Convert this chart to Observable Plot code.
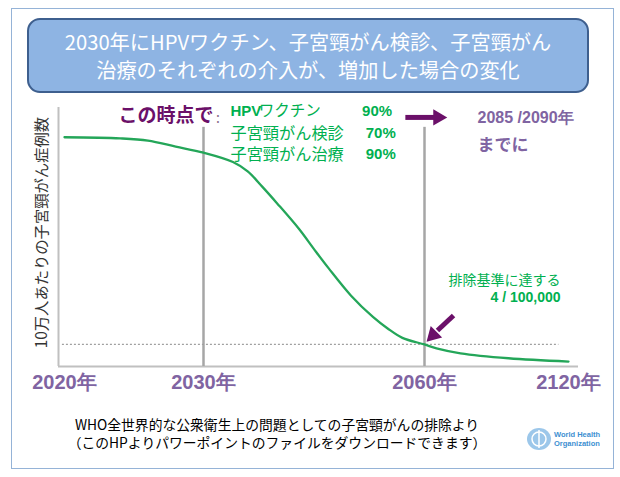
<!DOCTYPE html>
<html><head><meta charset="utf-8">
<script src="https://cdn.jsdelivr.net/npm/d3@7"></script>
<script src="https://cdn.jsdelivr.net/npm/@observablehq/plot@0.6"></script>
<style>
body{margin:0;background:#fff;width:620px;height:477px;position:relative;overflow:hidden;font-family:"Noto Sans CJK JP","Noto Sans",sans-serif}
#frame{position:absolute;left:11px;top:8px;width:603px;height:461px;border:1.5px solid #95b3d7;box-sizing:border-box}
#title{position:absolute;left:27px;top:18px;width:562px;height:75px;box-sizing:border-box;background:#8eb4e3;border:2px solid #3e5f8e;border-radius:13px;color:#fff;font-size:20.2px;line-height:28px;text-align:center;padding-top:8px;white-space:nowrap}
#chart{position:absolute;left:0;top:95px}
#foot{position:absolute;left:60px;width:434px;top:415px;text-align:center;font-size:13.8px;line-height:18px;color:#000;white-space:nowrap}
#who{position:absolute;left:526px;top:427px;display:flex;align-items:center;gap:2px}
#who .t{font-family:"Liberation Sans",sans-serif;font-weight:bold;font-size:7.5px;line-height:9px;color:#3d8fd1}
</style></head>
<body>
<div id="frame"></div>
<div id="title">2030年にHPVワクチン、子宮頸がん検診、子宮頸がん<br>治療のそれぞれの介入が、増加した場合の変化</div>
<div id="chart"></div>
<div id="foot">WHO全世界的な公衆衛生上の問題としての子宮頸がんの排除より<br>（このHPよりパワーポイントのファイルをダウンロードできます）</div>
<div id="who"><svg width="26" height="24"><ellipse cx="13" cy="12" rx="12" ry="11" fill="#9cc7ea"/><ellipse cx="13" cy="12" rx="7" ry="7" fill="none" stroke="#fff" stroke-width="1.5"/><line x1="13" y1="3" x2="13" y2="21" stroke="#fff" stroke-width="1.5"/></svg><div class="t">World Health<br>Organization</div></div>
<script>
// data
const years = [2020,2024,2026,2028,2030,2034,2036,2038,2040,2043,2045,2047,2050,2053,2055,2057,2060,2065,2075,2095,2120];
const incidence = [41.6,41.4,41.0,39.9,38.8,37.1,35.4,32.6,29.6,24.9,21.3,17.8,12.9,9.0,6.9,5.2,4.0,3.3,2.4,1.5,0.9];
const xTicks = [2020,2030,2060,2120];
const tickLabels = ["2020年","2030年","2060年","2120年"];
const markerYears = [2030,2060];
const threshold = 4;
const interventions = ["子宮頸がん検診","子宮頸がん治療"];
const coverage = ["90%","70%","90%"];
const yLabel = "10万人あたりの子宮頸がん症例数";

// piecewise (non-uniform) time axis, as in the original schematic
const X = d3.scaleLinear().domain(xTicks).range([64,203,424,568]);

const series = years.map((y,i)=>({year:y, value:incidence[i]}));
const ticks = xTicks.map((y,i)=>({year:y, label:tickLabels[i]}));

const purple = "#6b1069", lilac = "#8064a2", green = "#00b050";
const jp = "Noto Sans CJK JP", lat = "Liberation Sans";
const px = y => X(y);

const chart = Plot.plot({
  width:620, height:305, marginTop:12, marginBottom:34, marginLeft:58, marginRight:42,
  x:{type:"identity", axis:null},
  y:{domain:[0,47], axis:null},
  style:{fontFamily:jp, background:"transparent", overflow:"visible"},
  marks:[
    Plot.ruleX([2020], {x:px, dx:-6, y1:0, y2:47, stroke:"#c0c0c0", strokeWidth:2}),
    Plot.ruleY([0], {stroke:"#c0c0c0", strokeWidth:2}),
    Plot.ruleX(markerYears, {x:px, y1:0, y2:43.4, stroke:"#a6a6a6", strokeWidth:2.5}),
    Plot.ruleY([threshold], {x1:px(2019.85), x2:px(2116), stroke:"#a0a0a0", strokeDasharray:"2,2", strokeWidth:1.2}),
    Plot.line(series, {x:d=>px(d.year), y:"value", stroke:"#24a659", strokeWidth:2.3, curve:"catmull-rom"}),
    Plot.text(ticks, {x:d=>px(d.year), frameAnchor:"bottom", dy:22, text:"label", fill:lilac, fontSize:20, fontWeight:"bold", fontFamily:lat}),
    Plot.text([yLabel], {frameAnchor:"left", y:24.3, dx:-16, rotate:-90, textAnchor:"middle", text:d=>d, fill:"#333", fontSize:15.3}),
    // header annotation
    Plot.text(["この時点で"], {x:px(2031.35), y:45.5, text:d=>d, textAnchor:"end", fill:purple, fontSize:19, fontWeight:"bold"}),
    Plot.text([":"], {x:px(2031.7), y:45.0, text:d=>d, textAnchor:"start", fill:"#8a6a8a", fontSize:14}),
    Plot.text(["HPV"], {x:px(2033.66), y:46.3, text:d=>d, textAnchor:"start", fill:green, fontSize:15, fontWeight:"bold", fontFamily:lat}),
    Plot.text(["ワクチン"], {x:px(2037.5), y:46.3, text:d=>d, textAnchor:"start", fill:green, fontSize:15.5}),
    Plot.text(interventions, {x:px(2033.66), y:[42.3,38.5], text:d=>d, textAnchor:"start", fill:green, fontSize:16.2}),
    Plot.text(coverage, {x:[px(2055.6),px(2056.1),px(2056.1)], y:[46.3,42.3,38.5], text:d=>d, textAnchor:"end", fill:green, fontSize:15, fontWeight:"bold", fontFamily:lat}),
    // right arrow
    Plot.link([0], {x1:px(2057.4), x2:px(2064.4), y1:45.2, y2:45.2, stroke:purple, strokeWidth:5}),
    Plot.dot([0], {x:px(2065.6), y:45.2, symbol:"triangle", rotate:90, r:6, fill:purple, stroke:"none"}),
    Plot.text(["2085 /2090年"], {x:px(2082.1), y:45.2, text:d=>d, textAnchor:"start", fill:lilac, fontSize:16, fontWeight:"bold", fontFamily:lat}),
    Plot.text(["までに"], {x:px(2082.1), y:40.1, text:d=>d, textAnchor:"start", fill:lilac, fontSize:17, fontWeight:"bold"}),
    // threshold annotation
    Plot.text(["排除基準に達する"], {x:px(2116.7), y:15.6, text:d=>d, textAnchor:"end", fill:green, fontSize:14}),
    Plot.text(["4 / 100,000"], {x:px(2116.7), y:12.6, text:d=>d, textAnchor:"end", fill:green, fontSize:14, fontWeight:"bold", fontFamily:lat}),
    Plot.link([0], {x1:px(2072.1), y1:9.25, x2:px(2065.4), y2:6.53, stroke:purple, strokeWidth:5}),
    Plot.dot([0], {x:px(2063.6), y:5.7, symbol:"triangle", rotate:225, r:6, fill:purple, stroke:"none"})
  ]
});
document.getElementById("chart").appendChild(chart);
</script>
</body></html>
